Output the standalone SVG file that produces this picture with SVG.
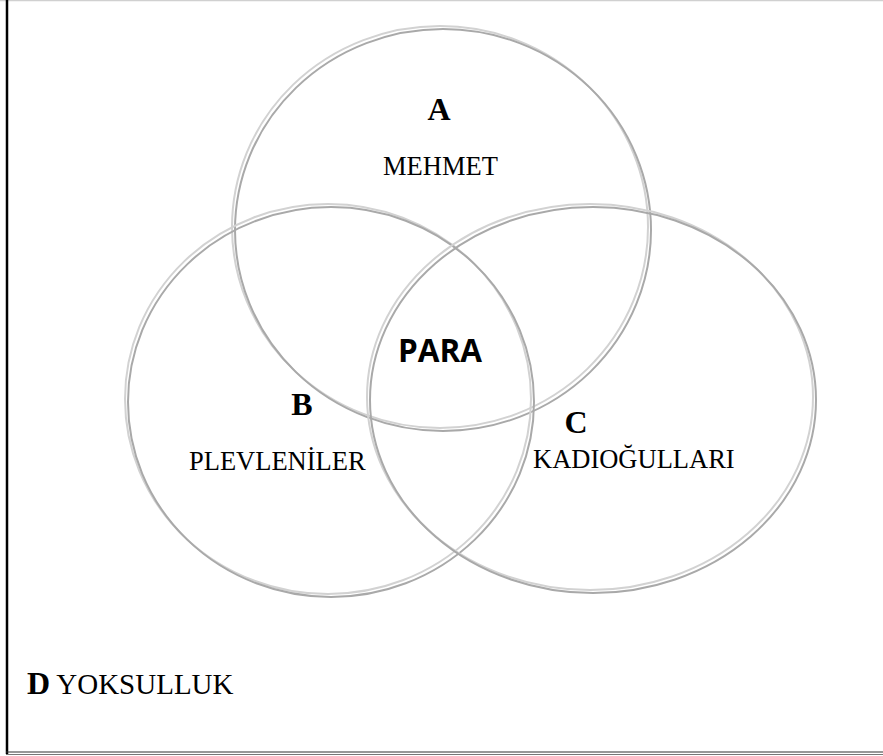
<svg xmlns="http://www.w3.org/2000/svg" width="883" height="756" viewBox="0 0 883 756">
<defs>
<style>
.lt{fill:none;stroke:#d2d2d2;stroke-width:2}
.dk{fill:none;stroke:#a9a9a9;stroke-width:2}
.bl{font-family:"Liberation Serif",serif;font-weight:bold;font-size:32px;fill:#000}
.lb{font-family:"Liberation Serif",serif;font-size:26.5px;fill:#000}
.sans{font-family:"Open Sans","Liberation Sans",sans-serif;font-weight:bold;font-size:33px;fill:#000}
</style>
</defs>
<rect x="0" y="0" width="883" height="756" fill="#fff"/>
<g id="frame">
<line x1="0" y1="0.5" x2="883" y2="0.5" stroke="#d0d0d0" stroke-width="1.5"/>
<line x1="7" y1="0" x2="7" y2="754" stroke="#000" stroke-width="2.5"/>
<line x1="6" y1="752" x2="883" y2="752" stroke="#333" stroke-width="1.2"/>
<line x1="6" y1="754.5" x2="883" y2="754.5" stroke="#777" stroke-width="1.2"/>
</g>
<g id="setA">
<ellipse class="lt" cx="440" cy="227" rx="208" ry="201"/>
<ellipse class="dk" cx="443" cy="230" rx="208" ry="201"/>
</g>
<g id="setB">
<ellipse class="lt" cx="328" cy="399" rx="203" ry="195"/>
<ellipse class="dk" cx="331" cy="402" rx="203" ry="195"/>
</g>
<g id="setC">
<ellipse class="lt" cx="590" cy="397" rx="223" ry="193"/>
<ellipse class="dk" cx="593" cy="400" rx="223" ry="193"/>
</g>
<g id="labels">
<text class="bl" x="439" y="120" text-anchor="middle">A</text>
<text class="lb" x="383" y="175">MEHMET</text>
<text class="sans" x="398" y="362" textLength="84" lengthAdjust="spacingAndGlyphs">PARA</text>
<text class="bl" x="302" y="415" text-anchor="middle">B</text>
<text class="lb" x="189" y="470">PLEVLENİLER</text>
<text class="bl" x="576" y="433" text-anchor="middle">C</text>
<text class="lb" x="533" y="468">KADIOĞULLARI</text>
<text x="27" y="694" style="font-family:'Liberation Serif',serif;font-size:29px;fill:#000"><tspan font-weight="bold" font-size="32px">D</tspan> YOKSULLUK</text>
</g>
</svg>
